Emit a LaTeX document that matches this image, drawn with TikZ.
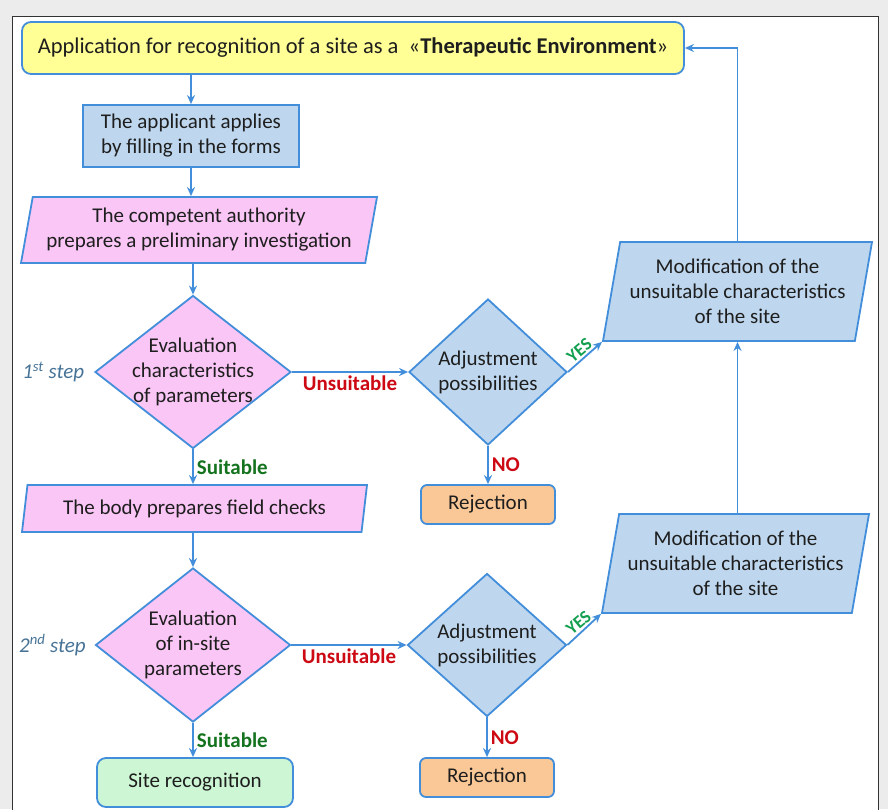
\documentclass[tikz,border=0pt]{standalone}
\usepackage{fontspec}
\setmainfont{Carlito}
\usetikzlibrary{shapes.geometric,arrows.meta,positioning}

\definecolor{flowblue}{RGB}{66,142,218}
\definecolor{boxyellow}{RGB}{255,255,150}
\definecolor{boxblue}{RGB}{190,215,238}
\definecolor{boxpink}{RGB}{250,198,246}
\definecolor{boxorange}{RGB}{250,200,150}
\definecolor{boxgreen}{RGB}{204,246,212}
\definecolor{nored}{RGB}{205,10,20}
\definecolor{okgreen}{RGB}{20,115,30}
\definecolor{yesgreen}{RGB}{20,160,80}
\definecolor{steptext}{RGB}{70,115,150}
\definecolor{pagegray}{RGB}{236,236,236}
\definecolor{inktext}{RGB}{30,30,30}

\tikzset{every picture/.style={line width=1.8pt}}
\tikzset{
  base/.style={draw=flowblue, line width=1.8pt, text=inktext, font=\fontsize{21}{25}\selectfont, align=center, inner sep=2pt},
  terminal/.style={base, rectangle, rounded corners=9pt},
  process/.style={base, rectangle},
  inout/.style={base, trapezium, trapezium left angle=76, trapezium right angle=104, trapezium stretches body, inner xsep=0pt},
  decision/.style={base, diamond, inner sep=0pt},
  dtext/.style={text=inktext, font=\fontsize{21}{25}\selectfont, align=center, inner sep=0pt},
  flow/.style={draw=flowblue, line width=1.8pt, -{Stealth[length=9pt,width=8pt]}},
  edgelabel/.style={font=\fontsize{21}{24}\selectfont\bfseries, inner sep=3pt},
  yeslabel/.style={font=\fontsize{18}{20}\selectfont\bfseries, text=yesgreen, rotate=40, anchor=south, inner sep=2pt},
  steplabel/.style={font=\fontsize{21}{24}\selectfont\itshape, text=steptext, inner sep=0pt}
}

\begin{document}
\begin{tikzpicture}[x=1pt,y=1pt,yscale=-1,xscale=1]
\path[use as bounding box] (0,0) rectangle (888,809);

%Background and frame
\fill[pagegray] (0,0) rectangle (888,809);
\draw[fill=white, draw=black!80, line width=0.8pt] (12,812) -- (12,16) -- (878,16) -- (878,812);

%Rounded Rect: application
\node[terminal, fill=boxyellow, minimum width=662, minimum height=52, font=\fontsize{22.5}{26}\selectfont] (apply) at (353,48) {Application for recognition of a site as a\ \ «\textbf{Therapeutic Environment}»};
%Rect: applicant
\node[process, fill=boxblue, minimum width=216, minimum height=62] (applicant) at (191,136) {The applicant applies\\by filling in the forms};
%Parallelogram: preliminary investigation
\node[inout, fill=boxpink, minimum width=356, minimum height=66] (prelim) at (199,230) {The competent authority\\prepares a preliminary investigation};

%Shape: Diamond (1st step)
\node[decision, fill=boxpink, minimum width=196, minimum height=153, label={[dtext]center:{Evaluation\\characteristics\\of parameters}}] (eval1) at (193,372) {};
\node[decision, fill=boxblue, minimum width=158, minimum height=146, label={[dtext]center:{Adjustment\\possibilities}}] (adjust1) at (488,372) {};
\node[terminal, fill=boxorange, rounded corners=6pt, minimum width=134, minimum height=39] (reject1) at (488,504.5) {Rejection};
\node[inout, fill=boxblue, minimum width=269, minimum height=99] (modify1) at (737.5,291.5) {Modification of the\\unsuitable characteristics\\of the site};

%Parallelogram: field checks
\node[inout, fill=boxpink, minimum width=345, minimum height=47] (field) at (194.5,508.5) {The body prepares field checks};

%Shape: Diamond (2nd step)
\node[decision, fill=boxpink, minimum width=195, minimum height=154, label={[dtext]center:{Evaluation\\of in-site\\parameters}}] (eval2) at (193,645) {};
\node[decision, fill=boxblue, minimum width=159, minimum height=143, label={[dtext]center:{Adjustment\\possibilities}}] (adjust2) at (487,645) {};
\node[terminal, fill=boxorange, rounded corners=6pt, minimum width=134, minimum height=39] (reject2) at (487,777.5) {Rejection};
\node[inout, fill=boxblue, minimum width=267, minimum height=99] (modify2) at (735.5,563.5) {Modification of the\\unsuitable characteristics\\of the site};
\node[terminal, fill=boxgreen, minimum width=196, minimum height=49] (site) at (195,782.5) {Site recognition};

% Text Node
\node[steplabel, left=9pt of eval1.west] (step1) {1\textsuperscript{st} step};
% Text Node
\node[steplabel, left=8pt of eval2.west] (step2) {2\textsuperscript{nd} step};

%Straight Lines
\draw[flow] (apply.south -| applicant.north) -- (applicant.north);
\draw[flow] (applicant.south) -- (applicant.south |- prelim.north);
\draw[flow] (prelim.south -| eval1.north) -- (eval1.north);
\draw[flow] (eval1.south) -- node[edgelabel, text=okgreen, right] {Suitable} (eval1.south |- field.north);
\draw[flow] (field.south -| eval2.north) -- (eval2.north);
\draw[flow] (eval2.south) -- node[edgelabel, text=okgreen, right] {Suitable} (eval2.south |- site.north);
\draw[flow] (eval1.east) -- node[edgelabel, text=nored, below] {Unsuitable} (adjust1.west);
\draw[flow] (eval2.east) -- node[edgelabel, text=nored, below] {Unsuitable} (adjust2.west);
\draw[flow] (adjust1.south) -- node[edgelabel, text=nored, right] {NO} (reject1.north);
\draw[flow] (adjust2.south) -- node[edgelabel, text=nored, right] {NO} (reject2.north);
\draw[flow] (adjust1.east) -- node[yeslabel] {YES} (modify1.bottom left corner);
\draw[flow] (adjust2.east) -- node[yeslabel] {YES} (modify2.bottom left corner);
\draw[flow] (modify1.south |- modify2.north) -- (modify1.south);
\draw[flow] (modify1.north) |- (apply.east);

\end{tikzpicture}
\end{document}
